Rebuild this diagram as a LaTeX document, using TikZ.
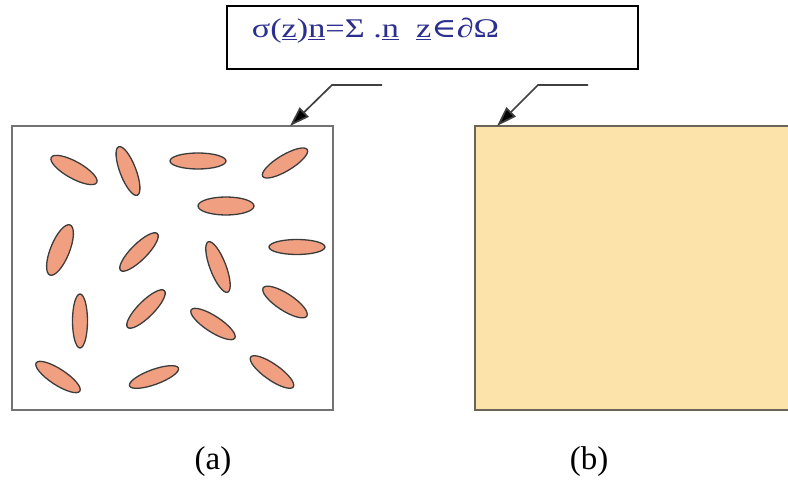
\documentclass[tikz,border=0pt]{standalone}
\usepackage{fontspec}
\setmainfont{Liberation Serif}
\newfontfamily\dvs{DejaVu Serif}
\usetikzlibrary{arrows.meta}
\definecolor{grainfill}{HTML}{F0A080}
\definecolor{grainline}{HTML}{3C3C3C}
\definecolor{homfill}{HTML}{FBE3A9}
\definecolor{formblue}{HTML}{2B2F8F}
\definecolor{arrowgray}{HTML}{404040}
\definecolor{homline}{HTML}{6B6556}
\tikzset{
  grain/.style={fill=grainfill, draw=grainline, line width=1.3pt},
  callout/.style={draw=arrowgray, line width=1.7pt, -{Triangle[length=20pt,width=13pt,fill=black]}},
  caption/.style={font=\fontsize{33}{35}\selectfont, inner sep=0pt}
}
\begin{document}
\begin{tikzpicture}[x=1pt,y=1pt]
\useasboundingbox (0,0) rectangle (788,-486);
% formula box
\node[draw=black, line width=1.8pt, minimum width=411pt, minimum height=63pt, inner sep=0pt] (fb) at (432.5,-37.5) {};
\node[text=formblue, font=\fontsize{27}{29}\selectfont, inner sep=0pt] (ft) at (375.5,-31)
  {\scalebox{1.27}[1]{σ(\underline{z})\underline{n}=Σ .\underline{n}\ \ \underline{z}{\dvs ∈}∂Ω}};
% panels
\node[draw=gray!90!black, line width=1.6pt, minimum width=321pt, minimum height=284pt, inner sep=0pt] (ra) at (172.5,-268) {};
\node[draw=homline, fill=homfill, line width=1.6pt, minimum width=320pt, minimum height=284pt, inner sep=0pt] (rb) at (635,-268) {};
% grains
\foreach \cx/\cy/\r/\a/\b in {
  74/170/-29/26/8.5, 128/171/-69/26/8, 198/161/0/28/8, 285/163/31/26/8,
  226/206/0/28/9, 60/250/68/27/9.5, 139/252/45/26/8, 218/267/-69/27/8,
  297/247/0/28/7.5, 80/321/90/27/7.5, 146/309/45/26/8, 213/324/-33/26/8,
  285/302/-33/26/8.5, 58/377/-33/26/8, 154/377/20/26/7.5, 272/372/-35/26/8}
  \draw[grain, rotate around={\r:(\cx,-\cy)}] (\cx,-\cy) ellipse [x radius=\a pt, y radius=\b pt];
% callout arrows
\coordinate (la0) at (382,-85);
\coordinate (la1) at (332,-85);
\coordinate (lat) at (290,-126);
\coordinate (lb0) at (588,-85);
\coordinate (lb1) at (538,-85);
\coordinate (lbt) at (497,-126);
\draw[callout] (la0) -- (la1) -- (lat);
\draw[callout] (lb0) -- (lb1) -- (lbt);
% captions
\node[caption] (ca) at (213,-462) {(a)};
\node[caption] (cb) at (589,-462) {(b)};
\end{tikzpicture}
\end{document}
